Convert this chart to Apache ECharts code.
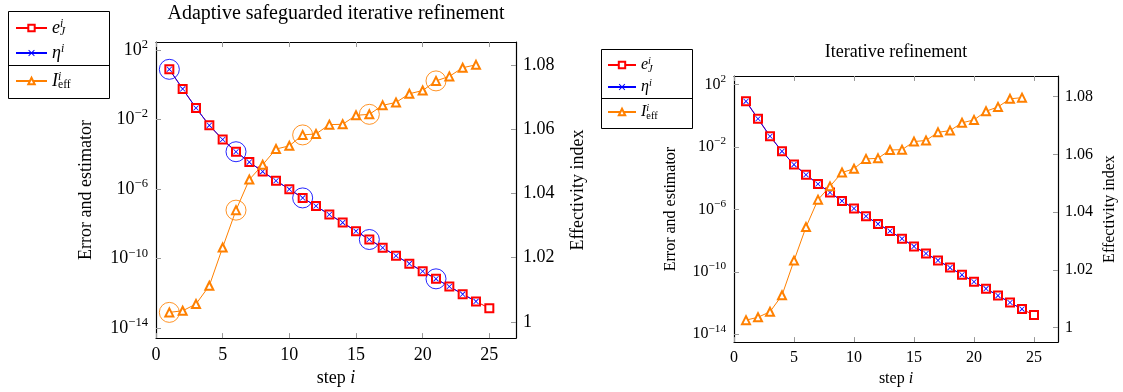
<!DOCTYPE html>
<html>
<head>
<meta charset="utf-8">
<title>Iterative refinement</title>
<script src="https://cdn.jsdelivr.net/npm/echarts@6/dist/echarts.min.js"></script>
<style>
    html, body { margin: 0; padding: 0; background: #fff; }
    #chart { width: 1123px; height: 392px; }
</style>
</head>
<body>
<div id="chart"></div>
<script>
// steps of the iteration
const steps = [1, 2, 3, 4, 5, 6, 7, 8, 9, 10, 11, 12, 13, 14, 15, 16, 17, 18, 19, 20, 21, 22, 23, 24, 25];
// steps marked with a circle in the left plot
const markedSteps = [1, 6, 11, 16, 21];

// left plot: adaptive safeguarded iterative refinement
const errLeft = [7.9, 0.59, 4.67e-2, 4.72e-3, 7.2e-4, 1.43e-4, 3.63e-5, 1.03e-5, 3.06e-6, 1.0e-6, 3.14e-7, 1.07e-7, 3.49e-8,
    1.19e-8, 3.83e-9, 1.27e-9, 4.26e-10, 1.48e-10, 5.18e-11, 1.88e-11, 6.92e-12, 2.51e-12, 9.12e-13, 3.49e-13, 1.39e-13];
const etaLeft = [7.9, 0.59, 4.67e-2, 4.72e-3, 7.2e-4, 1.43e-4, 3.63e-5, 1.03e-5, 3.06e-6, 1.0e-6, 3.14e-7, 1.07e-7, 3.49e-8,
    1.19e-8, 3.83e-9, 1.27e-9, 4.26e-10, 1.48e-10, 5.18e-11, 1.88e-11, 6.92e-12, 2.51e-12, 9.12e-13, 3.49e-13];
const effLeft = [1.0030, 1.0035, 1.0056, 1.0113, 1.0232, 1.0348, 1.0443, 1.0489, 1.0538, 1.0548, 1.0582, 1.0585,
    1.0614, 1.0615, 1.0643, 1.0646, 1.0674, 1.0683, 1.0710, 1.0720, 1.0750, 1.0764, 1.0791, 1.0800];

// right plot: iterative refinement
const errRight = [8.4, 0.644, 4.88e-2, 5.24e-3, 7.41e-4, 1.65e-4, 4.26e-5, 1.2e-5, 3.47e-6, 1.13e-6, 3.61e-7, 1.17e-7, 4.06e-8,
    1.32e-8, 4.23e-9, 1.48e-9, 5.33e-10, 1.84e-10, 6.34e-11, 2.29e-11, 8.24e-12, 2.97e-12, 1.07e-12, 4.03e-13, 1.68e-13];
const etaRight = [8.4, 0.644, 4.88e-2, 5.24e-3, 7.41e-4, 1.65e-4, 4.26e-5, 1.2e-5, 3.47e-6, 1.13e-6, 3.61e-7, 1.17e-7, 4.06e-8,
    1.32e-8, 4.23e-9, 1.48e-9, 5.33e-10, 1.84e-10, 6.34e-11, 2.29e-11, 8.24e-12, 2.97e-12, 1.07e-12, 4.03e-13];
const effRight = [1.0026, 1.0036, 1.0055, 1.0112, 1.0232, 1.0348, 1.0443, 1.0489, 1.0537, 1.0550, 1.0584, 1.0586,
    1.0615, 1.0616, 1.0644, 1.0648, 1.0676, 1.0682, 1.0709, 1.0719, 1.0749, 1.0764, 1.0792, 1.0796];

// tick labels
const stepTicks = [0, 5, 10, 15, 20, 25];
const logTicks = [1e2, 1e-2, 1e-6, 1e-10, 1e-14];
const effTicks = [1, 1.02, 1.04, 1.06, 1.08];

const titles = ['Adaptive safeguarded iterative refinement', 'Iterative refinement'];
const names = { err: 'e_J^i', eta: 'η^i', eff: 'I_eff^i' };

const SERIF = '"Liberation Serif", "DejaVu Serif", serif';
const RED = '#ff0000', BLUE = '#0000ff', ORANGE = '#ff8000';
const CROSS = 'path://M1,0L5,4L9,0L10,1L6,5L10,9L9,10L5,6L1,10L0,9L4,5L0,1Z';

function pairs(values) {
    return values.map((v, i) => [steps[i], v]);
}
function marked(values) {
    return markedSteps.map(s => [s, values[s - 1]]);
}

function supText(v) {
    const p = Math.round(Math.log10(v));
    return '{b|10}{s|' + (p < 0 ? '\u2212' + (-p) : p) + '}';
}

// legend labels with super- and subscripts
function legendText(name) {
    if (name === names.err) return '{m|e}{z|i}{d|J}';
    if (name === names.eta) return '{m|η}{u|i}';
    return '{m|I}{z|i}{r|eff}';
}
function legendRich(fs) {
    return {
        m: { fontFamily: SERIF, fontStyle: 'italic', fontSize: fs, lineHeight: fs + 2 },
        u: { fontFamily: SERIF, fontStyle: 'italic', fontSize: fs * 0.65, lineHeight: fs * 0.7, verticalAlign: 'top' },
        z: { fontFamily: SERIF, fontStyle: 'italic', fontSize: fs * 0.65, lineHeight: fs * 0.7, verticalAlign: 'top', width: 0.01 },
        d: { fontFamily: SERIF, fontStyle: 'italic', fontSize: fs * 0.65, lineHeight: fs * 0.7, verticalAlign: 'bottom' },
        r: { fontFamily: SERIF, fontSize: fs * 0.65, lineHeight: fs * 0.7, verticalAlign: 'bottom' }
    };
}

function makeLegends(p) {
    const common = {
        orient: 'vertical',
        left: p.left,
        itemWidth: p.iconW,
        itemHeight: 8,
        itemGap: p.gap,
        padding: 0,
        selectedMode: false,
        formatter: legendText,
        textStyle: { color: '#000', rich: legendRich(p.fs) }
    };
    return [
        Object.assign({}, common, { top: p.top1, data: [names.err, names.eta] }),
        Object.assign({}, common, { top: p.top2, data: [names.eff] })
    ];
}

// legend frames: outer box and the line between the two groups
function legendFrame(x, y, w, h, sep) {
    return [
        { type: 'rect', shape: { x: x + 0.5, y: y + 0.5, width: w, height: h }, style: { fill: 'none', stroke: '#000', lineWidth: 1 } },
        { type: 'line', shape: { x1: x, y1: sep + 0.5, x2: x + w, y2: sep + 0.5 }, style: { stroke: '#000', lineWidth: 1 } }
    ];
}

function axisTick() {
    return { inside: true, length: 5, lineStyle: { color: '#999', width: 1 } };
}
function axisLine() {
    return { show: true, onZero: false, lineStyle: { color: '#000', width: 1.2 } };
}

function makeX(grid, fs, gap) {
    return [
        {
            type: 'value', gridIndex: grid, position: 'bottom', min: 0, max: 27,
            name: '{n|step }{i|i}', nameLocation: 'middle', nameGap: gap,
            nameTextStyle: { rich: { n: { fontFamily: SERIF, fontSize: fs, color: '#000' }, i: { fontFamily: SERIF, fontStyle: 'italic', fontSize: fs, color: '#000' } } },
            axisLine: axisLine(), splitLine: { show: false },
            axisTick: Object.assign(axisTick(), { customValues: stepTicks }),
            axisLabel: { customValues: stepTicks, fontFamily: SERIF, fontSize: fs, color: '#000', margin: 8 }
        },
        {
            type: 'value', gridIndex: grid, position: 'top', min: 0, max: 27,
            axisLine: axisLine(), splitLine: { show: false },
            axisTick: Object.assign(axisTick(), { customValues: stepTicks }),
            axisLabel: { show: false }
        }
    ];
}

function makeY(grid, fs, logMin, logMax, gapL, gapR) {
    return [
        {
            type: 'log', logBase: 10, gridIndex: grid, position: 'left',
            min: Math.pow(10, logMin), max: Math.pow(10, logMax),
            name: 'Error and estimator', nameLocation: 'middle', nameRotate: 90, nameGap: gapL,
            nameTextStyle: { fontFamily: SERIF, fontSize: fs, color: '#000' },
            axisLine: axisLine(), splitLine: { show: false }, minorTick: { show: false },
            axisTick: Object.assign(axisTick(), { customValues: logTicks }),
            axisLabel: {
                customValues: logTicks, formatter: supText, margin: 8, color: '#000',
                rich: {
                    b: { fontFamily: SERIF, fontSize: fs, lineHeight: fs + 6 },
                    s: { fontFamily: SERIF, fontSize: fs * 0.7, lineHeight: fs * 0.75, verticalAlign: 'top' }
                }
            }
        },
        {
            type: 'value', gridIndex: grid, position: 'right', min: 0.995, max: 1.0871,
            name: 'Effectivity index', nameLocation: 'middle', nameRotate: 90, nameGap: gapR,
            nameTextStyle: { fontFamily: SERIF, fontSize: fs, color: '#000' },
            axisLine: axisLine(), splitLine: { show: false },
            axisTick: Object.assign(axisTick(), { customValues: effTicks }),
            axisLabel: {
                customValues: effTicks, margin: 7, fontFamily: SERIF, fontSize: fs, color: '#000',
                formatter: v => String(+v.toFixed(2))
            }
        }
    ];
}

function makeSeries(k, err, eta, eff, withCircles, sym) {
    const x = 2 * k, y = 2 * k;
    const list = [
        {
            name: names.err, type: 'line', xAxisIndex: x, yAxisIndex: y, data: pairs(err),
            symbol: 'emptyRect', symbolSize: sym, color: RED,
            lineStyle: { color: RED, width: 1 }, itemStyle: { color: RED, borderWidth: 1 }
        },
        {
            name: names.eta, type: 'line', xAxisIndex: x, yAxisIndex: y, data: pairs(eta),
            symbol: CROSS, symbolSize: sym * 0.7, color: BLUE,
            lineStyle: { color: BLUE, width: 1 }, itemStyle: { color: BLUE }
        },
        {
            name: names.eff, type: 'line', xAxisIndex: x, yAxisIndex: y + 1, data: pairs(eff),
            symbol: 'emptyTriangle', symbolSize: sym, color: ORANGE,
            lineStyle: { color: ORANGE, width: 1 }, itemStyle: { color: ORANGE, borderWidth: 1 }
        }
    ];
    if (withCircles) {
        // thin open rings around every fifth step
        list.push({
            name: 'eta marked', type: 'scatter', xAxisIndex: x, yAxisIndex: y, data: marked(eta), silent: true,
            symbol: 'circle', symbolSize: 20, itemStyle: { color: 'rgba(0,0,0,0)', borderColor: BLUE, borderWidth: 1, opacity: 0.85 }
        });
        list.push({
            name: 'eff marked', type: 'scatter', xAxisIndex: x, yAxisIndex: y + 1, data: marked(eff), silent: true,
            symbol: 'circle', symbolSize: 20, itemStyle: { color: 'rgba(0,0,0,0)', borderColor: ORANGE, borderWidth: 1, opacity: 0.85 }
        });
    }
    return list;
}

let myChart = echarts.init(document.getElementById('chart'));

let option = {
    animation: false,
    backgroundColor: '#fff',
    title: [
        { text: titles[0], left: 336, top: 4, textAlign: 'center', padding: 0, textStyle: { fontFamily: SERIF, fontSize: 20, fontWeight: 'normal', color: '#000' } },
        { text: titles[1], left: 896, top: 43, textAlign: 'center', padding: 0, textStyle: { fontFamily: SERIF, fontSize: 18, fontWeight: 'normal', color: '#000' } }
    ],
    legend: [].concat(
        makeLegends({ left: 15, top1: 18, top2: 71, iconW: 31, gap: 5, fs: 18 }),
        makeLegends({ left: 607, top1: 56, top2: 103, iconW: 28, gap: 4, fs: 16 })
    ),
    graphic: [].concat(
        legendFrame(8, 11, 101, 87, 65),
        legendFrame(601, 49, 91, 79, 98)
    ),
    grid: [
        { left: 156, top: 42, width: 360, height: 298 },
        { left: 734, top: 76, width: 324, height: 269 }
    ],
    xAxis: [].concat(makeX(0, 18, 29), makeX(1, 16, 27)),
    yAxis: [].concat(makeY(0, 18, -14.57, 2.47, 61, 53), makeY(1, 16, -14.51, 2.55, 55, 44)),
    series: [].concat(
        makeSeries(0, errLeft, etaLeft, effLeft, true, 8),
        makeSeries(1, errRight, etaRight, effRight, false, 8)
    )
};
option && myChart.setOption(option);
</script>
</body>
</html>
